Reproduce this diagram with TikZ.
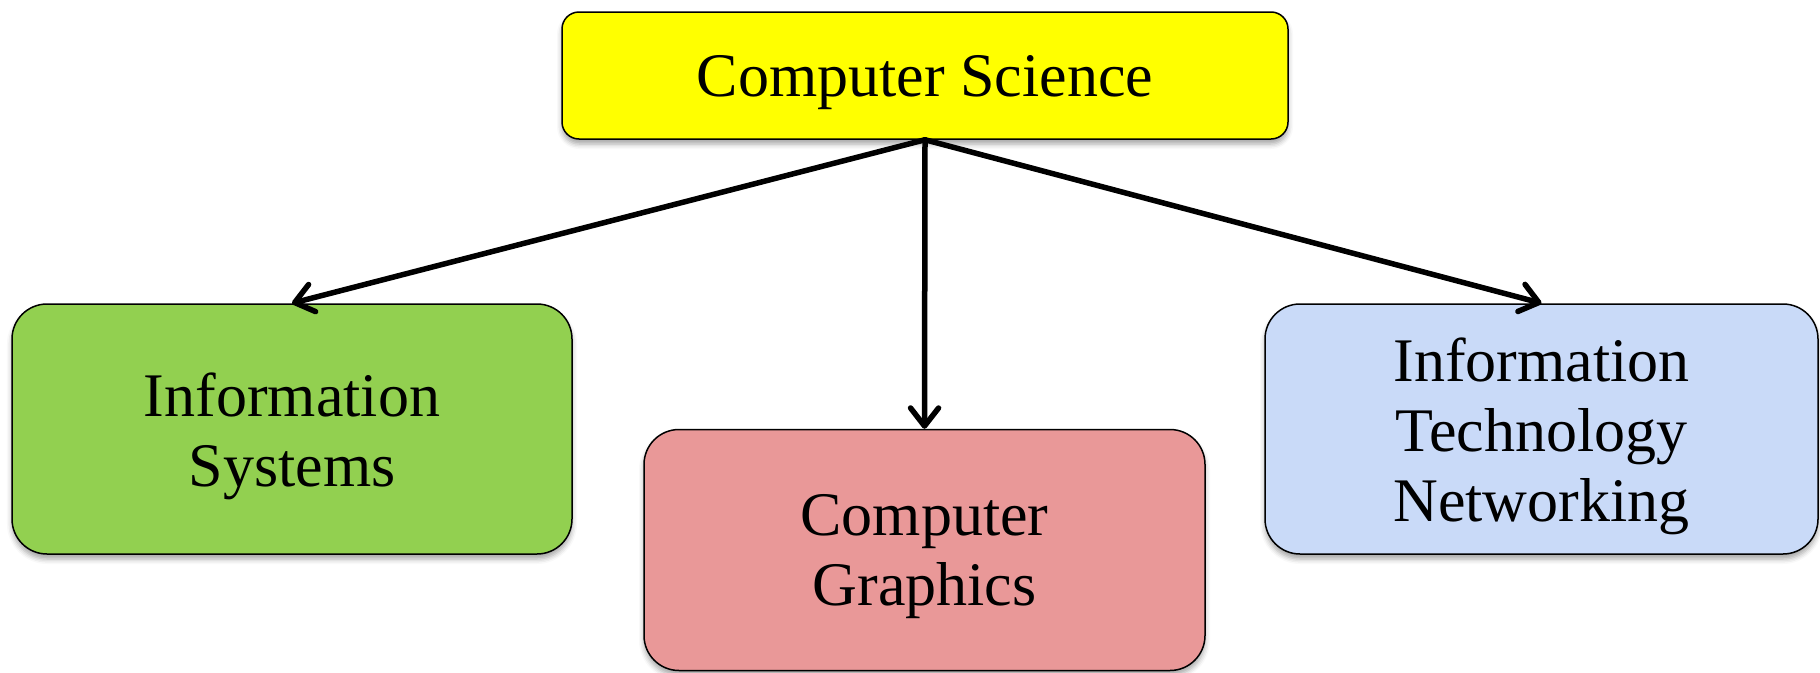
\documentclass[tikz,border=0pt]{standalone}
\usepackage{fontspec}
\setmainfont{Liberation Serif}
\usetikzlibrary{arrows.meta,shadows.blur}
\definecolor{csyellow}{HTML}{FFFF00}
\definecolor{isgreen}{HTML}{92D050}
\definecolor{cgpink}{HTML}{E99898}
\definecolor{itblue}{HTML}{C9DAF8}
\begin{document}
\begin{tikzpicture}[x=1pt,y=-1pt,
  box/.style={draw=black, line width=1.5pt, inner sep=0pt,
    blur shadow={shadow xshift=0pt, shadow yshift=-5pt, shadow blur radius=5pt, shadow opacity=35}},
  boxtext/.style={align=center, inner sep=0pt, yshift=-7pt,
    font=\fontsize{62}{70}\selectfont},
  conn/.style={line width=5.5pt, line cap=round,
    -{Straight Barb[length=18pt,width=28pt,line width=5.5pt,round]}}
]
\useasboundingbox (0,0) rectangle (1820,672);
\node[box, fill=csyellow, rounded corners=17pt, minimum width=726pt, minimum height=127pt,
  label={[boxtext]center:{Computer Science}}] (cs) at (925,75.5) {};
\node[box, fill=isgreen, rounded corners=35pt, minimum width=560pt, minimum height=250pt,
  label={[boxtext]center:{Information\\Systems}}] (is) at (292,429) {};
\node[box, fill=cgpink, rounded corners=35pt, minimum width=561pt, minimum height=241pt,
  label={[boxtext]center:{Computer\\Graphics}}] (cg) at (924.5,550) {};
\node[box, fill=itblue, rounded corners=35pt, minimum width=553pt, minimum height=250pt,
  label={[boxtext]center:{Information\\Technology\\Networking}}] (it) at (1541.5,429) {};
\draw[conn] (cs.south) -- (is.north);
\draw[conn] (cs.south) -- (cg.north);
\draw[conn] (cs.south) -- (it.north);
\end{tikzpicture}
\end{document}
